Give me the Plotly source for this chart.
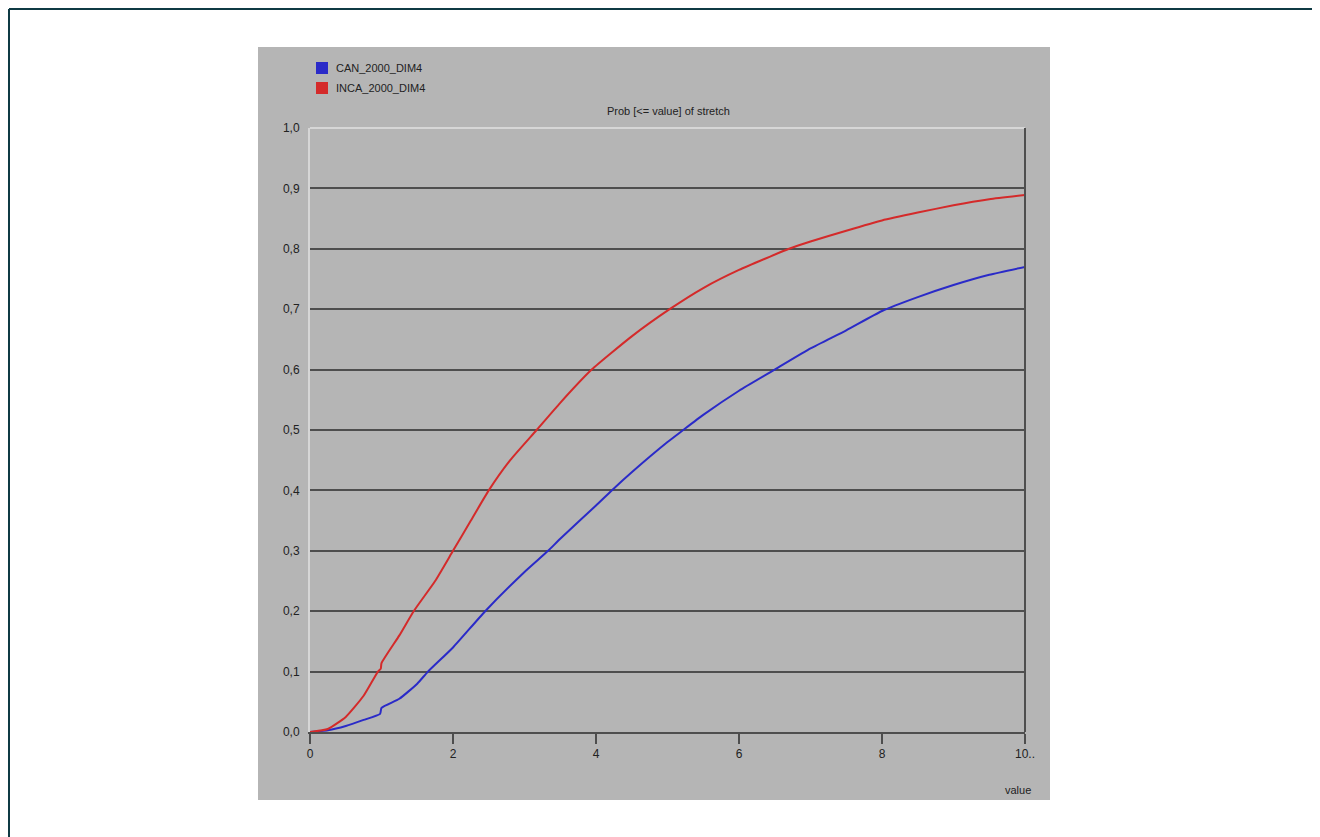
import plotly.graph_objects as go

# ---- data ----
series_names = ["CAN_2000_DIM4", "INCA_2000_DIM4"]
series_colors = ["#2a2ac8", "#d42a2a"]

can_x = [0, 0.25, 0.5, 0.75, 0.98, 1.0, 1.25, 1.5, 1.65, 2.0, 2.45, 3.0, 3.33, 3.5, 4.0, 4.22,
         4.5, 5.0, 5.22, 5.5, 6.0, 6.5, 7.0, 7.5, 8.0, 8.5, 9.0, 9.5, 10.0]
can_y = [0, 0.003, 0.01, 0.02, 0.03, 0.04, 0.055, 0.08, 0.1, 0.14, 0.2, 0.265, 0.3, 0.32, 0.375, 0.4,
         0.43, 0.48, 0.5, 0.525, 0.565, 0.6, 0.635, 0.665, 0.697, 0.72, 0.74, 0.757, 0.77]

inca_x = [0, 0.25, 0.5, 0.75, 0.95, 0.99, 1.0, 1.25, 1.45, 1.75, 2.0, 2.25, 2.5, 2.8, 3.17, 3.5,
          3.94, 4.5, 5.03, 5.5, 6.0, 6.7, 7.0, 7.5, 8.0, 8.5, 9.0, 9.5, 10.0]
inca_y = [0, 0.005, 0.025, 0.06, 0.1, 0.105, 0.114, 0.16, 0.2, 0.25, 0.3, 0.35, 0.4, 0.45, 0.5, 0.545,
          0.6, 0.655, 0.7, 0.735, 0.765, 0.8, 0.812, 0.83, 0.847, 0.86, 0.872, 0.882, 0.889]

x_tickvals = [0, 2, 4, 6, 8, 10]
x_ticktext = ["0", "2", "4", "6", "8", "10.."]
y_tickvals = [0, 0.1, 0.2, 0.3, 0.4, 0.5, 0.6, 0.7, 0.8, 0.9, 1.0]
y_ticktext = ["0,0", "0,1", "0,2", "0,3", "0,4", "0,5", "0,6", "0,7", "0,8", "0,9", "1,0"]

chart_title = "Prob [<= value] of stretch"
x_title = "value"

# ---- figure ----
OFF = 8  # page body margin
W, H = 1320, 837
L, T = 310 - OFF, 128 - OFF
pw, ph = 715, 604
R, B = W - L - pw, H - T - ph

def px(x):
    return (x - OFF - L) / pw

def py(y):
    return (T + ph - (y - OFF)) / ph

FONT = "Liberation Sans, Arial, sans-serif"
GRAY = "#b5b5b5"
DARK = "#4e4e4e"

fig = go.Figure()
fig.add_trace(go.Scatter(x=can_x, y=can_y, mode="lines", name=series_names[0],
                         line=dict(color=series_colors[0], width=2, shape="spline", smoothing=0.5),
                         showlegend=False))
fig.add_trace(go.Scatter(x=inca_x, y=inca_y, mode="lines", name=series_names[1],
                         line=dict(color=series_colors[1], width=2, shape="spline", smoothing=0.5),
                         showlegend=False))

shapes = []
# grey panel
shapes.append(dict(type="rect", xref="paper", yref="paper", x0=px(258), x1=px(1050),
                   y0=py(800), y1=py(47), fillcolor=GRAY, line=dict(width=0), layer="below"))
# outer frame (top and left)
shapes.append(dict(type="line", xref="paper", yref="paper", x0=px(9), x1=px(1340),
                   y0=py(9), y1=py(9), line=dict(color="#0f3a44", width=2)))
shapes.append(dict(type="line", xref="paper", yref="paper", x0=px(9), x1=px(9),
                   y0=py(9), y1=py(860), line=dict(color="#0f3a44", width=2)))
# top light line and right dark edge of plot area
shapes.append(dict(type="line", xref="paper", yref="paper", x0=0, x1=1, y0=1, y1=1,
                   line=dict(color="#d6d6d6", width=2)))
shapes.append(dict(type="line", xref="paper", yref="paper", x0=1, x1=1, y0=0, y1=1.0,
                   line=dict(color=DARK, width=2)))
# legend swatches
for i, c in enumerate(series_colors):
    cy = 68 + 20 * i
    shapes.append(dict(type="rect", xref="paper", yref="paper", x0=px(316), x1=px(328),
                       y0=py(cy + 6), y1=py(cy - 6), fillcolor=c, line=dict(width=0)))

annotations = []
for i, n in enumerate(series_names):
    cy = 68 + 20 * i
    annotations.append(dict(text=n, xref="paper", yref="paper", x=px(334), y=py(cy),
                            xanchor="left", yanchor="middle", showarrow=False,
                            font=dict(family=FONT, size=11, color="#222222")))
annotations.append(dict(text=chart_title, xref="paper", yref="paper", x=px(668), y=py(111),
                        xanchor="center", yanchor="middle", showarrow=False,
                        font=dict(family=FONT, size=11, color="#222222")))
annotations.append(dict(text=x_title, xref="paper", yref="paper", x=px(1018), y=py(790),
                        xanchor="center", yanchor="middle", showarrow=False,
                        font=dict(family=FONT, size=11, color="#222222")))

fig.update_layout(
    width=W, height=H,
    margin=dict(l=L, r=R, t=T, b=B, pad=0),
    paper_bgcolor="white", plot_bgcolor=GRAY,
    font=dict(family=FONT, size=11, color="#222222"),
    shapes=shapes, annotations=annotations, showlegend=False,
    xaxis=dict(range=[0, 10], tickvals=x_tickvals, ticktext=x_ticktext,
               showgrid=False, zeroline=False, showline=True, linecolor=DARK, linewidth=2,
               ticks="outside", ticklen=10, tickwidth=2, tickcolor=DARK,
               tickfont=dict(family=FONT, size=12, color="#222222")),
    yaxis=dict(range=[0, 1.0], tickvals=y_tickvals, ticktext=y_ticktext,
               showgrid=True, gridcolor=DARK, gridwidth=2, zeroline=False,
               showline=True, linecolor="#d6d6d6", linewidth=2, ticks="",
               ticklabelstandoff=6,
               tickfont=dict(family=FONT, size=12, color="#222222")),
)

fig.write_html("out.html")
